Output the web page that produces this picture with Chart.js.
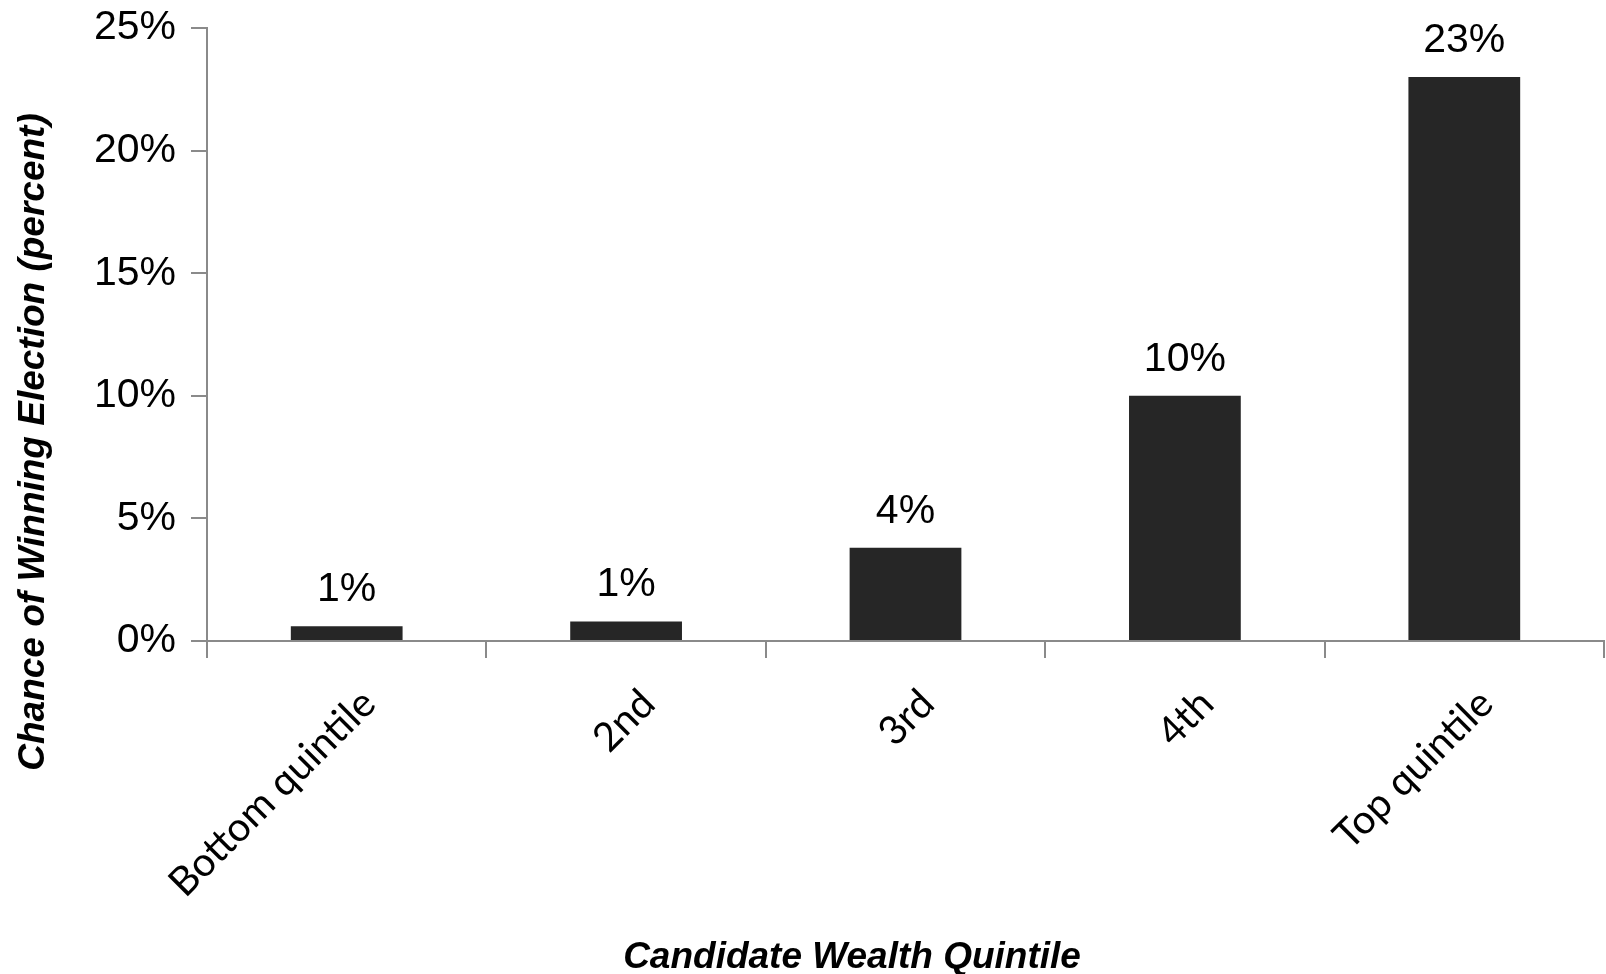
<!DOCTYPE html>
<html>
<head>
<meta charset="utf-8">
<title>Chance of Winning Election by Candidate Wealth Quintile</title>
<script src="https://cdn.jsdelivr.net/npm/chart.js@4"></script>
<style>
  html, body { margin: 0; padding: 0; background: #ffffff; }
  #barChart { display: block; }
</style>
</head>
<body>
<canvas id="barChart" width="1606" height="974"></canvas>
<script>
// Data
var categories = ['Bottom quintile', '2nd', '3rd', '4th', 'Top quintile'];
var winChance = [0.6, 0.8, 3.8, 10.0, 23.0];
var yTicks = [0, 5, 10, 15, 20, 25];
var xTitle = 'Candidate Wealth Quintile';
var yTitle = 'Chance of Winning Election (percent)';

document.addEventListener('DOMContentLoaded', function () {
    var axisGrey = '#8a8a8a';

    // Value labels above each bar
    var valueLabels = {
        id: 'valueLabels',
        afterDatasetsDraw: function (chart) {
            var ctx = chart.ctx;
            var meta = chart.getDatasetMeta(0);
            ctx.save();
            ctx.font = '41px "Liberation Sans", Arial, sans-serif';
            ctx.fillStyle = '#000000';
            ctx.textAlign = 'center';
            ctx.textBaseline = 'alphabetic';
            meta.data.forEach(function (bar, i) {
                ctx.fillText(Math.round(winChance[i]) + '%', bar.x, bar.y - 25);
            });
            ctx.restore();
        }
    };

    // Axis titles (not centred on the plot area in the original)
    var axisTitles = {
        id: 'axisTitles',
        afterDraw: function (chart) {
            var ctx = chart.ctx;
            ctx.save();
            ctx.font = 'italic bold 37px "Liberation Sans", Arial, sans-serif';
            ctx.fillStyle = '#000000';
            ctx.textAlign = 'center';
            ctx.textBaseline = 'alphabetic';
            ctx.fillText(xTitle, 852, 968);
            ctx.translate(44, 442);
            ctx.rotate(-Math.PI / 2);
            ctx.fillText(yTitle, 0, 0);
            ctx.restore();
        }
    };

    var ctx = document.getElementById('barChart').getContext('2d');

    var myBarChart = new Chart(ctx, {
        type: 'bar',
        data: {
            labels: categories,
            datasets: [{
                label: 'Chance of winning',
                data: winChance,
                backgroundColor: '#262626',
                borderWidth: 0,
                barPercentage: 0.4,
                categoryPercentage: 1.0
            }]
        },
        options: {
            responsive: false,
            animation: false,
            layout: {
                padding: { top: 28, right: 2, left: 0, bottom: 0 }
            },
            plugins: {
                legend: { display: false },
                tooltip: { enabled: false }
            },
            scales: {
                x: {
                    afterFit: function (scale) { scale.height = 333; },
                    grid: {
                        drawOnChartArea: false,
                        drawTicks: true,
                        tickLength: 17,
                        color: axisGrey,
                        lineWidth: 2,
                        offset: true
                    },
                    border: { color: axisGrey, width: 2 },
                    ticks: {
                        autoSkip: false,
                        maxRotation: 45,
                        minRotation: 45,
                        padding: 22,
                        labelOffset: 22,
                        color: '#000000',
                        font: { family: 'Lato, "Open Sans", sans-serif', size: 40 }
                    }
                },
                y: {
                    min: yTicks[0],
                    max: yTicks[yTicks.length - 1],
                    afterFit: function (scale) {
                        scale.width = 207;
                        scale.paddingTop = 0;
                        scale.paddingBottom = 0;
                    },
                    afterBuildTicks: function (scale) {
                        scale.ticks = yTicks.map(function (v) { return { value: v }; });
                    },
                    grid: {
                        drawOnChartArea: false,
                        drawTicks: true,
                        tickLength: 16,
                        color: axisGrey,
                        lineWidth: 2
                    },
                    border: { color: axisGrey, width: 2 },
                    ticks: {
                        padding: 15,
                        color: '#000000',
                        font: { family: '"Liberation Sans", Arial, sans-serif', size: 41 },
                        callback: function (value) { return value + '%'; }
                    }
                }
            }
        },
        plugins: [valueLabels, axisTitles]
    });
});
</script>
</body>
</html>
